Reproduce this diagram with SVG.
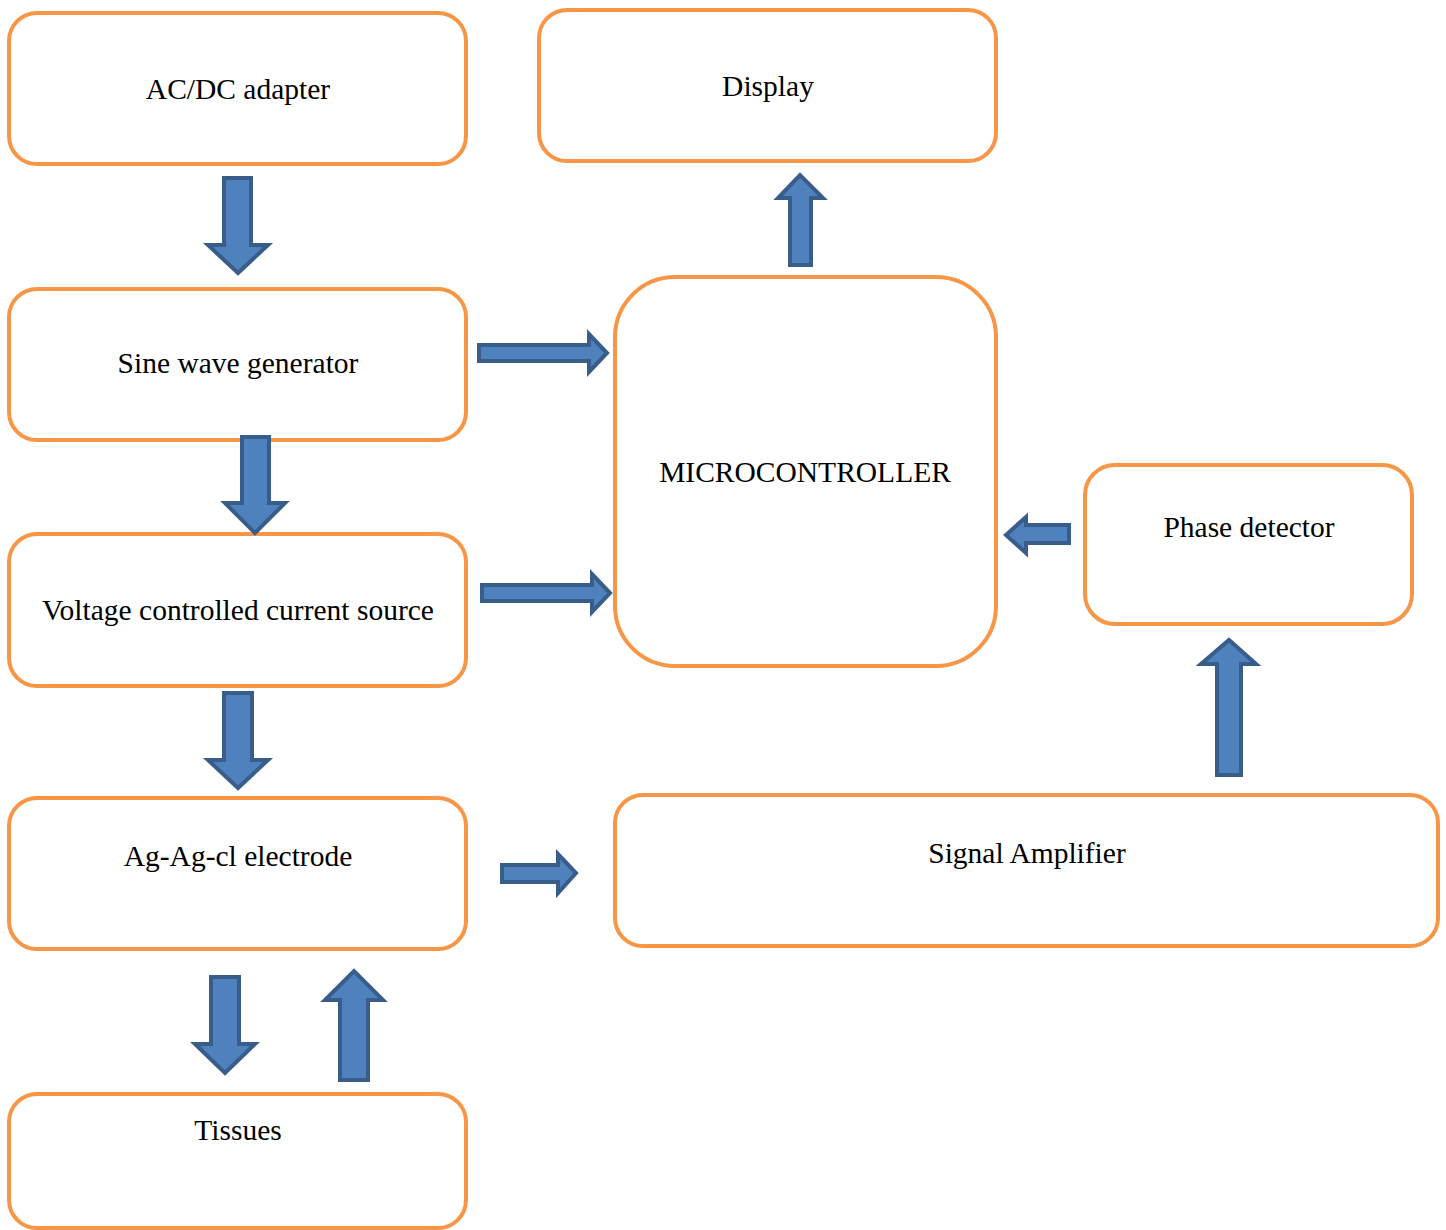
<svg xmlns="http://www.w3.org/2000/svg" width="1446" height="1230" viewBox="0 0 1446 1230">
<style>
.box{fill:#ffffff;stroke:#f79646;stroke-width:4}
.lbl{font-family:"Liberation Serif","Times New Roman",serif;font-size:29.5px;fill:#000;text-anchor:middle}
.arr{fill:#4f81bd;stroke:#385d8a;stroke-width:4;stroke-linejoin:miter}
</style>
<rect width="1446" height="1230" fill="#ffffff"/>
<g id="acdc"><rect class="box" x="9" y="13" width="457" height="151" rx="28"/><text class="lbl" x="238" y="99">AC/DC adapter</text></g>
<g id="display"><rect class="box" x="539" y="10" width="457" height="151" rx="28"/><text class="lbl" x="768" y="96">Display</text></g>
<g id="sine"><rect class="box" x="9" y="289" width="457" height="151" rx="28"/><text class="lbl" x="238" y="373">Sine wave generator</text></g>
<g id="micro"><rect class="box" x="615" y="277" width="381" height="389" rx="60"/><text class="lbl" x="805" y="482">MICROCONTROLLER</text></g>
<g id="phase"><rect class="box" x="1085" y="465" width="327" height="159" rx="30"/><text class="lbl" x="1249" y="537">Phase detector</text></g>
<g id="vccs"><rect class="box" x="9" y="534" width="457" height="152" rx="28"/><text class="lbl" x="238" y="620">Voltage controlled current source</text></g>
<g id="electrode"><rect class="box" x="9" y="798" width="457" height="151" rx="28"/><text class="lbl" x="238" y="866">Ag-Ag-cl electrode</text></g>
<g id="amp"><rect class="box" x="615" y="795" width="823" height="151" rx="28"/><text class="lbl" x="1027" y="863">Signal Amplifier</text></g>
<g id="tissues"><rect class="box" x="9" y="1094" width="457" height="134" rx="28"/><text class="lbl" x="238" y="1140">Tissues</text></g>
<g id="connectors">
<polygon class="arr" points="224,178 251,178 251,245 268,245 238,273 208,245 224,245"/>
<polygon class="arr" points="242,437 269,437 269,503 285,503 255,533 225,503 242,503"/>
<polygon class="arr" points="224,693 252,693 252,760 268,760 238,788 208,760 224,760"/>
<polygon class="arr" points="211,977 239,977 239,1044 255,1044 225,1073 195,1044 211,1044"/>
<polygon class="arr" points="340,1080 368,1080 368,1000 383,1000 354,971 325,1000 340,1000"/>
<polygon class="arr" points="479,345 589,345 589,334 607,353 589,372 589,361 479,361"/>
<polygon class="arr" points="482,585 592,585 592,574 610,593 592,612 592,601 482,601"/>
<polygon class="arr" points="502,865 558,865 558,854 576,873 558,893 558,882 502,882"/>
<polygon class="arr" points="790,265 811,265 811,198 823,198 800,175 778,198 790,198"/>
<polygon class="arr" points="1069,525 1026,525 1026,517 1006,535 1026,553 1026,543 1069,543"/>
<polygon class="arr" points="1217,775 1241,775 1241,664 1256,664 1229,640 1201,664 1217,664"/>
</g>
</svg>
